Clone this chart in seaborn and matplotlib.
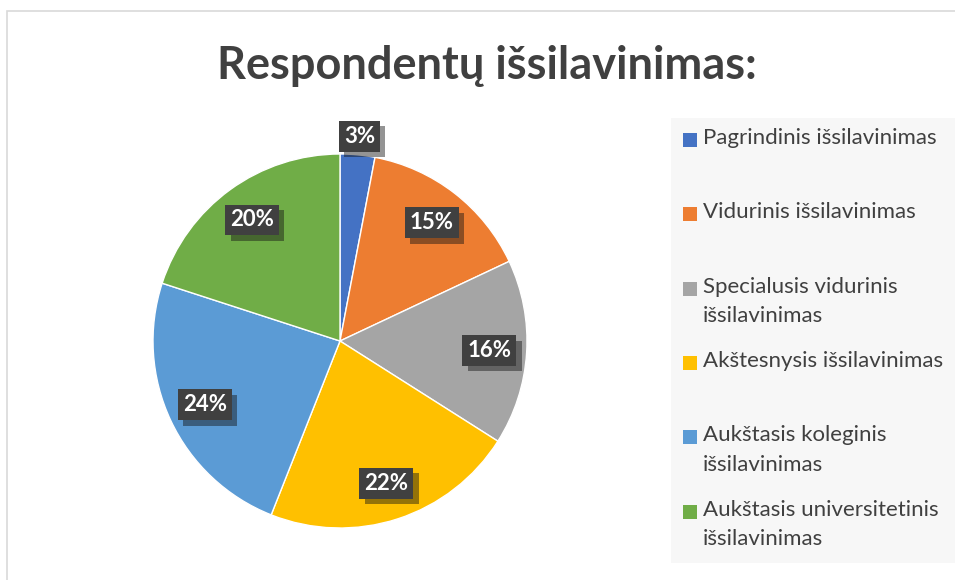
import numpy as np
import matplotlib.pyplot as plt
import matplotlib.patheffects as pe
from matplotlib.patches import Rectangle
import seaborn as sns

# Data
labels = ["Pagrindinis išsilavinimas",
          "Vidurinis išsilavinimas",
          "Specialusis vidurinis\nišsilavinimas",
          "Akštesnysis išsilavinimas",
          "Aukštasis koleginis\nišsilavinimas",
          "Aukštasis universitetinis\nišsilavinimas"]
shares = [3, 15, 16, 22, 24, 20]
colors = ["#4472C4", "#ED7D31", "#A5A5A5", "#FFC000", "#5B9BD5", "#70AD47"]
title = "Respondentų išsilavinimas:"

sns.set_theme(style="white")
plt.rcParams['font.family'] = ['Lato', 'DejaVu Sans']
palette = sns.color_palette(colors)

W, H = 955, 580
fig = plt.figure(figsize=(W / 100, H / 100), dpi=100)

# chart frame (only left/top visible in the crop)
fig.add_artist(Rectangle((7 / W, -0.1), 2, (H - 11) / H + 0.1, transform=fig.transFigure,
                         fill=False, edgecolor="#d9d9d9", linewidth=1.2))

# pie axes: centre (340, 341) px, radius 187 px
cx, cy, r = 340, 341, 187
ax = fig.add_axes([(cx - r) / W, (H - cy - r) / H, 2 * r / W, 2 * r / H])
wedges, texts, autotexts = ax.pie(shares, colors=palette, startangle=90, counterclock=False,
                                  autopct='%1.0f%%', pctdistance=0.8,
                                  wedgeprops=dict(edgecolor="white", linewidth=1))
ax.set_xlim(-1, 1)
ax.set_ylim(-1, 1)
ax.set_aspect("equal")

for w, t, v in zip(wedges, autotexts, shares):
    if v < 5:
        ang = np.deg2rad((w.theta1 + w.theta2) / 2)
        t.set_position((1.1 * np.cos(ang), 1.1 * np.sin(ang)))
    t.set_color("white")
    t.set_fontsize(16)
    t.set_fontweight("bold")
    t.set_bbox(dict(boxstyle="square,pad=0.22", facecolor="#404040", edgecolor="none"))
    t.get_bbox_patch().set_path_effects([pe.SimplePatchShadow(offset=(4, -4), alpha=0.45),
                                         pe.Normal()])

fig.text(487 / W, 1 - 66 / H, title, ha="center", va="center", fontsize=32.5,
         fontweight="bold", color="#404040")

# legend
fig.add_artist(Rectangle((671 / W, 1 - 563 / H), 1, (563 - 118) / H, transform=fig.transFigure,
                         facecolor="#f7f7f7", edgecolor="none"))
step = 74.3
for i, (lab, col) in enumerate(zip(labels, colors)):
    y = 140 + i * step
    fig.add_artist(Rectangle((683 / W, 1 - (y + 7) / H), 14 / W, 14 / H,
                             transform=fig.transFigure, facecolor=col, edgecolor="none"))
    fig.text(703 / W, 1 - (y - 12) / H, lab, ha="left", va="top", fontsize=16,
             color="#404040", linespacing=1.6)

fig.savefig("out.png", dpi=100)
